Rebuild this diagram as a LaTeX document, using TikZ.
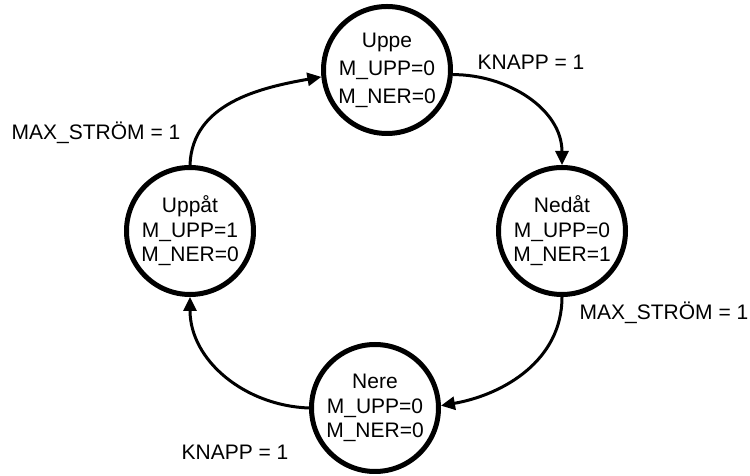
\documentclass[tikz,border=0pt]{standalone}
\usepackage{fontspec}
\setmainfont{Liberation Sans}
\usetikzlibrary{arrows.meta}

\tikzset{
  state/.style={circle, draw=black, line width=5pt, fill=white,
    minimum size=127pt, inner sep=0pt, align=center,
    font=\fontsize{21}{24.5}\selectfont},
  trans/.style={line width=3pt, -{Triangle[length=14pt,width=13pt]}},
  cond/.style={font=\fontsize{21}{25}\selectfont, inner sep=0pt}
}

\begin{document}
\begin{tikzpicture}[x=1pt,y=1pt]
  \useasboundingbox (0,0) rectangle (750,476);

  % states
  \node[state, font=\fontsize{21}{28}\selectfont] (uppe) at (387,406) {Uppe\\M\_UPP=0\\M\_NER=0};
  \node[state] (nedat) at (562,245) {Nedåt\\M\_UPP=0\\M\_NER=1};
  \node[state] (nere)  at (375,68)  {Nere\\M\_UPP=0\\M\_NER=0};
  \node[state] (uppat) at (190,245) {Uppåt\\M\_UPP=1\\M\_NER=0};

  % transitions
  \draw[trans] (uppat.90)  to[out=88,  in=190] (uppe.186);
  \draw[trans] (uppe.-4)   to[out=0,   in=90]  (nedat.90);
  \draw[trans] (nedat.270) to[out=270, in=10]  (nere.2);
  \draw[trans] (nere.180)  to[out=178, in=270] (uppat.270);

  % conditions
  \node[cond] (c1) at (531,414) {KNAPP = 1};
  \node[cond] (c2) at (664,163) {MAX\_STRÖM = 1};
  \node[cond] (c3) at (235,24)  {KNAPP = 1};
  \node[cond] (c4) at (96,343)  {MAX\_STRÖM = 1};
\end{tikzpicture}
\end{document}
